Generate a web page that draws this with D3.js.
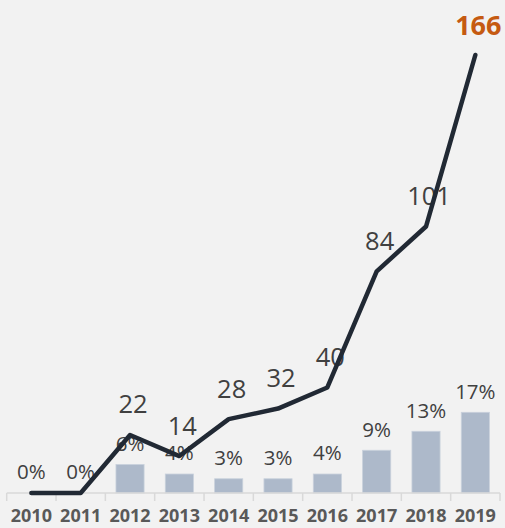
<!DOCTYPE html>
<html>
<head>
<meta charset="utf-8">
<script src="https://cdn.jsdelivr.net/npm/d3@7"></script>
<style>
  html, body { margin: 0; padding: 0; background: #f2f2f2; }
  svg { display: block; }
</style>
</head>
<body>
<svg id="chart" width="505" height="528"></svg>
<script>
// Yearly counts (line) and share (bars, %)
const years = ["2010", "2011", "2012", "2013", "2014", "2015", "2016", "2017", "2018", "2019"];
const counts = [0, 0, 22, 14, 28, 32, 40, 84, 101, 166];
const shares = [0, 0, 6, 4, 3, 3, 4, 9, 13, 17];

const W = 505, H = 528;
const baseY = 493;

const svg = d3.select("#chart");
svg.append("rect").attr("width", W).attr("height", H).attr("fill", "#f2f2f2");

const x = d3.scaleBand().domain(years).range([6.7, 500]).padding(0);
const bw = x.bandwidth();
const cx = d => x(d) + bw / 2;

const yLine = d3.scaleLinear().domain([0, 166]).range([baseY, 55]);
const yBar = d3.scaleLinear().domain([0, 17]).range([baseY, 412.3]);

const font = "'Open Sans', 'DejaVu Sans', sans-serif";

// Bars
const barW = bw * 0.57;
svg.append("g").selectAll("rect")
  .data(years)
  .join("rect")
  .attr("x", (d) => cx(d) - barW / 2)
  .attr("width", barW)
  .attr("y", (d, i) => yBar(shares[i]))
  .attr("height", (d, i) => baseY - yBar(shares[i]))
  .attr("fill", "#adb9ca")
  .attr("stroke", "#c9d1dc")
  .attr("stroke-width", 0.8);

// Axis with ticks between categories
const axisG = svg.append("g");
axisG.append("line")
  .attr("x1", x.range()[0]).attr("x2", x.range()[1])
  .attr("y1", baseY).attr("y2", baseY)
  .attr("stroke", "#d9d9d9").attr("stroke-width", 1.5);
const boundaries = years.map(d => x(d)).concat([x.range()[1]]);
axisG.selectAll("line.tick")
  .data(boundaries)
  .join("line")
  .attr("class", "tick")
  .attr("x1", d => d).attr("x2", d => d)
  .attr("y1", baseY).attr("y2", baseY + 8)
  .attr("stroke", "#d9d9d9").attr("stroke-width", 1.5);

axisG.selectAll("text")
  .data(years)
  .join("text")
  .attr("x", d => cx(d))
  .attr("y", 522)
  .attr("text-anchor", "middle")
  .attr("font-family", font)
  .attr("font-weight", 700)
  .attr("font-size", 18)
  .attr("fill", "#595959")
  .text(d => d);

// Share labels above bars
svg.append("g").selectAll("text")
  .data(years)
  .join("text")
  .attr("x", d => cx(d))
  .attr("y", (d, i) => yBar(shares[i]) - 13.7)
  .attr("text-anchor", "middle")
  .attr("font-family", font)
  .attr("font-size", 20.5)
  .attr("fill", "#404040")
  .text((d, i) => shares[i] + "%");

// Count labels above line points
const last = years.length - 1;
svg.append("g").selectAll("text")
  .data(years.slice(2))
  .join("text")
  .attr("x", d => cx(d) + 3)
  .attr("y", d => yLine(counts[years.indexOf(d)]) - (years.indexOf(d) === last ? 20 : 21.5))
  .attr("text-anchor", "middle")
  .attr("font-family", font)
  .attr("font-size", d => years.indexOf(d) === last ? 27 : 25.5)
  .attr("font-weight", d => years.indexOf(d) === last ? 700 : 400)
  .attr("fill", d => years.indexOf(d) === last ? "#c55a11" : "#404040")
  .text(d => counts[years.indexOf(d)]);

// Count line
const line = d3.line()
  .x((d, i) => cx(years[i]))
  .y(d => yLine(d));
svg.append("path")
  .datum(counts)
  .attr("d", line)
  .attr("fill", "none")
  .attr("stroke", "#212934")
  .attr("stroke-width", 4.5)
  .attr("stroke-linejoin", "round")
  .attr("stroke-linecap", "round");
</script>
</body>
</html>
